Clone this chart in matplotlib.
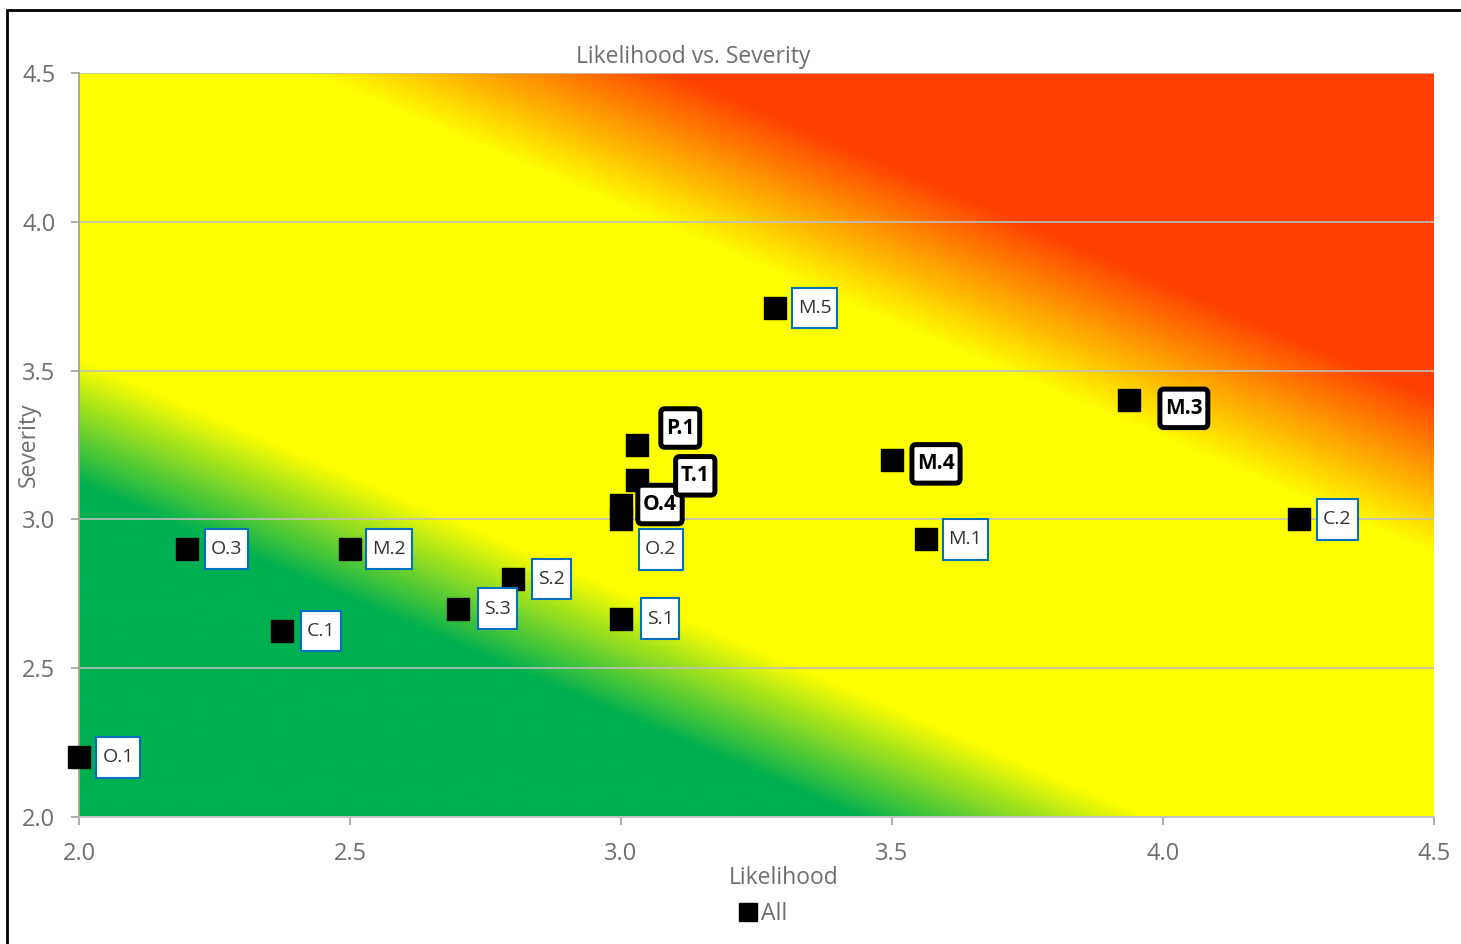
import numpy as np
import matplotlib
matplotlib.use("Agg")
import matplotlib.pyplot as plt
from matplotlib.colors import LinearSegmentedColormap
from matplotlib.patches import Rectangle, BoxStyle
from matplotlib.lines import Line2D

plt.rcParams['font.family'] = ['Open Sans', 'DejaVu Sans']

# risk items
labels = ['O.1', 'O.3', 'C.1', 'M.2', 'S.3', 'S.2', 'S.1', 'O.2', 'O.4',
          'T.1', 'P.1', 'M.5', 'M.4', 'M.1', 'M.3', 'C.2']
likelihood = [2.0, 2.2, 2.375, 2.5, 2.7, 2.8, 3.0, 3.0, 3.0,
              3.03, 3.03, 3.285, 3.5, 3.563, 3.937, 4.25]
severity = [2.2, 2.9, 2.625, 2.9, 2.7, 2.8, 2.667, 3.0, 3.05,
            3.133, 3.25, 3.71, 3.2, 2.933, 3.4, 3.0]
highlighted = ['O.4', 'T.1', 'P.1', 'M.4', 'M.3']

x_ticks = [2.0, 2.5, 3.0, 3.5, 4.0, 4.5]
y_ticks = [2.0, 2.5, 3.0, 3.5, 4.0, 4.5]

# label offsets in pixels (dx right, dy down) from the marker
label_offsets = {'O.2': (40, 30), 'T.1': (58, -4), 'P.1': (43, -17),
                 'M.4': (44, 4), 'M.3': (55, 8)}


class LabelBox:
    """Box with separate horizontal / vertical padding (in fontsize units)."""

    def __init__(self, padx, pady, rounding=0.0):
        self.padx = padx
        self.pady = pady
        self.rounding = rounding

    def __call__(self, x0, y0, width, height, mutation_size):
        px = self.padx * mutation_size
        py = self.pady * mutation_size
        if self.rounding > 0:
            style = BoxStyle.Round(pad=0, rounding_size=self.rounding)
        else:
            style = BoxStyle.Square(pad=0)
        return style(x0 - px, y0 - py, width + 2 * px, height + 2 * py, mutation_size)


W, H = 1461, 944
fig = plt.figure(figsize=(W / 100, H / 100), dpi=100)
ax = fig.add_axes([79 / W, 1 - 817 / H, (1434 - 79) / W, (817 - 73) / H])

# diagonal green / yellow / red background
g_full, y_start, y_end, r_full = 3.116, 3.536, 4.837, 5.365
span = r_full - g_full
cmap = LinearSegmentedColormap.from_list('risk', [
    (0.0, '#00B050'),
    ((y_start - g_full) / span, '#FFFF00'),
    ((y_end - g_full) / span, '#FFFF00'),
    (1.0, '#FF4000')])
gx, gy = np.meshgrid(np.linspace(2, 4.5, 800), np.linspace(2, 4.5, 500))
score = gy + 0.78 * (gx - 2)
ax.imshow(score, extent=[2, 4.5, 2, 4.5], origin='lower', aspect='auto',
          cmap=cmap, vmin=g_full, vmax=r_full, interpolation='bilinear', zorder=0)

ax.set_xlim(2, 4.5)
ax.set_ylim(2, 4.5)
ax.set_xticks(x_ticks)
ax.set_yticks(y_ticks)
ax.set_xticklabels([f'{v:.1f}' for v in x_ticks])
ax.set_yticklabels([f'{v:.1f}' for v in y_ticks])
ax.grid(True, axis='y', color='#BFBFBF', linewidth=1.3, alpha=0.9)
ax.set_axisbelow('line')

for side in ['top', 'right']:
    ax.spines[side].set_visible(False)
ax.spines['left'].set_color('#A6A68C')
ax.spines['bottom'].set_color('#BFBFBF')
ax.spines['left'].set_linewidth(1.3)
ax.spines['bottom'].set_linewidth(1.3)
ax.tick_params(axis='both', colors='#A6A6A6', labelcolor='#6E6E6E',
               labelsize=17, length=6, width=1.3)
ax.tick_params(axis='y', pad=11)
ax.tick_params(axis='x', pad=12)

ax.scatter(likelihood, severity, marker='s', s=250, color='black', zorder=3,
           clip_on=False)

for name, lx, ly in zip(labels, likelihood, severity):
    dx, dy = label_offsets.get(name, (39, 0))
    if name in highlighted:
        box = dict(boxstyle=LabelBox(0.25, 0.42, rounding=0.2), facecolor='white',
                   edgecolor='black', linewidth=3.6)
        ax.annotate(name, (lx, ly), xytext=(dx * 0.72, -dy * 0.72),
                    textcoords='offset points', ha='center', va='center',
                    fontsize=15, fontweight='bold', color='black', bbox=box,
                    zorder=5)
    else:
        box = dict(boxstyle=LabelBox(0.3, 0.58), facecolor='white',
                   edgecolor='#0070C0', linewidth=1.5)
        ax.annotate(name, (lx, ly), xytext=(dx * 0.72, -dy * 0.72),
                    textcoords='offset points', ha='center', va='center',
                    fontsize=14, color='#333333', bbox=box, zorder=4)

gray = '#6E6E6E'
fig.text(693 / W, 1 - 57 / H, 'Likelihood vs. Severity', ha='center',
         va='center', fontsize=16.5, color=gray)
fig.text(784 / W, 1 - 878 / H, 'Likelihood', ha='center', va='center',
         fontsize=16.5, color=gray)
fig.text(29 / W, 1 - 445 / H, 'Severity', ha='center', va='center',
         rotation=90, fontsize=16.5, color=gray)

handle = Line2D([], [], marker='s', linestyle='none', color='black', markersize=13)
fig.legend([handle], ['All'], loc='center', bbox_to_anchor=(763 / W, 1 - 914 / H),
           frameon=False, fontsize=16.5, labelcolor=gray, handletextpad=0.2,
           handlelength=0.8, borderaxespad=0)

# outer chart border (cut off at right and bottom)
fig.add_artist(Rectangle((7 / W, -0.1), 1.2, 1 - 10 / H + 0.1, fill=False,
                         edgecolor='black', linewidth=2, transform=fig.transFigure))

fig.savefig('out.png', dpi=100)
